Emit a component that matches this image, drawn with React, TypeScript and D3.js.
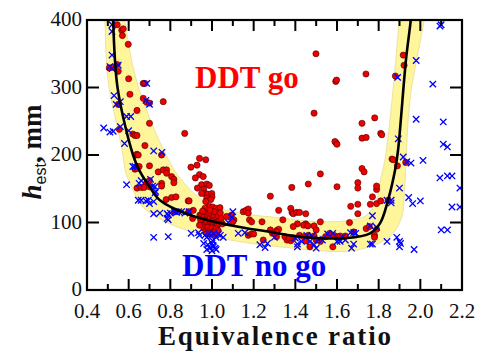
import React from 'react';
import * as d3 from 'd3';

const X_TICKS = [0.4, 0.6, 0.8, 1.0, 1.2, 1.4, 1.6, 1.8, 2.0, 2.2];
const X_MINOR = [0.5, 0.7, 0.9, 1.1, 1.3, 1.5, 1.7, 1.9, 2.1];
const Y_TICKS = [0, 100, 200, 300, 400];

// DDT go (red circles): [equivalence ratio, h_est mm]
const goPoints: [number, number][] = [
  [0.545, 393], [0.567, 385], [0.57, 377], [0.574, 387], [0.598, 364],
  [0.507, 329], [0.523, 330], [0.545, 334], [0.55, 324],
  [0.6, 313], [0.67, 306], [0.678, 306], [0.606, 290], [0.67, 284], [0.687, 278], [0.7, 277],
  [0.55, 275], [0.766, 279], [0.64, 266], [0.7, 247], [0.555, 238], [0.62, 231], [0.63, 229],
  [0.64, 229], [0.678, 214], [0.869, 232], [0.64, 201], [0.635, 200], [0.646, 200], [0.758, 200],
  [0.63, 179], [0.64, 180], [0.65, 183], [0.7, 184], [0.742, 175], [0.766, 178], [0.782, 178],
  [0.782, 173], [0.806, 168], [0.817, 164], [0.817, 159], [0.758, 158], [0.758, 154], [0.69, 160],
  [0.683, 157], [0.64, 151], [0.66, 152], [0.674, 152], [0.7, 153], [0.78, 134], [0.806, 137],
  [0.827, 138], [0.82, 116], [0.886, 132], [0.7, 162],
  [0.94, 195], [0.97, 193], [0.928, 185], [0.899, 182], [0.94, 171], [0.958, 168], [0.92, 166],
  [0.95, 156], [0.975, 157], [0.987, 155], [0.93, 151], [0.96, 149], [0.966, 143], [0.98, 142],
  [0.999, 143], [1.0, 138], [0.95, 143], [0.975, 136], [0.994, 134], [0.97, 131], [0.89, 132],
  [0.987, 124], [1.003, 123], [1.02, 121], [1.038, 122], [0.966, 121], [0.96, 116], [0.888, 116],
  [0.91, 118], [0.907, 106], [0.942, 111],
  [0.95, 112], [0.96, 108], [0.97, 104], [0.98, 110], [0.99, 106], [1.0, 112], [1.01, 108],
  [1.02, 104], [1.03, 110], [0.95, 100], [0.965, 97], [0.975, 101], [0.985, 96], [0.995, 100],
  [1.005, 97], [1.015, 100], [1.025, 95], [1.035, 102], [0.96, 92], [0.97, 88], [0.98, 93],
  [0.99, 89], [1.0, 92], [1.01, 87], [1.02, 91], [1.03, 88], [0.975, 84], [0.99, 83], [1.005, 85],
  [1.015, 82], [0.955, 117], [0.985, 115], [1.01, 116], [1.04, 114], [0.945, 104], [1.045, 106],
  [1.05, 98], [0.94, 96], [1.0, 102], [0.99, 118],
  [1.07, 109], [1.094, 111], [1.105, 104], [1.1, 101], [1.15, 116], [1.163, 118], [1.174, 120],
  [1.174, 114], [1.18, 104], [1.19, 101], [1.24, 101], [1.28, 139], [1.32, 118], [1.28, 89],
  [1.31, 88], [1.32, 90], [1.174, 81], [1.19, 83], [1.2, 83], [1.246, 74], [1.31, 86],
  [1.383, 152], [1.462, 157], [1.6, 153], [1.7, 159], [1.7, 151], [1.52, 172], [1.72, 180], [1.73, 175],
  [1.378, 121], [1.384, 115], [1.39, 113], [1.406, 115], [1.42, 115], [1.45, 113],
  [1.34, 104], [1.52, 101], [1.41, 98], [1.39, 94], [1.45, 98], [1.49, 95], [1.5, 89], [1.44, 96], [1.46, 95],
  [1.666, 124], [1.7, 127], [1.7, 113], [1.66, 100], [1.68, 86],
  [1.76, 127], [1.79, 128], [1.81, 132], [1.846, 133], [1.77, 138], [1.79, 149], [1.79, 154],
  [1.74, 91], [1.755, 94], [1.79, 90], [1.78, 81], [1.78, 78], [1.29, 84], [1.31, 79],
  [1.36, 74], [1.378, 73], [1.39, 77], [1.42, 81], [1.44, 79], [1.462, 81], [1.49, 80], [1.52, 72],
  [1.545, 79], [1.565, 84], [1.585, 81], [1.6, 79], [1.615, 80], [1.64, 80], [1.5, 74], [1.47, 64],
  [1.58, 64], [1.45, 73], [1.35, 79], [1.37, 77],
  [1.864, 194], [1.87, 193], [1.89, 184], [1.93, 189], [1.918, 348], [1.922, 333], [1.88, 317],
  [1.499, 350], [1.594, 309], [1.598, 311], [1.739, 320], [1.49, 262], [1.781, 255], [1.72, 247],
  [1.81, 232], [1.815, 230], [1.595, 218], [1.59, 220], [1.6, 216], [1.72, 225], [1.74, 226],
];

// DDT no go (blue crosses)
const noGoPoints: [number, number][] = [
  [0.52, 393], [0.52, 383], [0.52, 348], [0.51, 331], [0.52, 328], [0.55, 333], [0.53, 288],
  [0.54, 275], [0.56, 279], [0.687, 306], [0.683, 281], [0.7, 275], [0.59, 257], [0.61, 257],
  [0.48, 240], [0.51, 234], [0.526, 235], [0.56, 242], [0.6, 236], [0.58, 217], [0.72, 206], [0.76, 204],
  [0.59, 156], [0.65, 158], [0.66, 162], [0.62, 183], [0.63, 183], [0.715, 154], [0.726, 153],
  [0.705, 164], [0.727, 144], [0.646, 133], [0.66, 133], [0.683, 132], [0.694, 133],
  [0.7, 128], [0.72, 131], [0.73, 146], [0.72, 113], [0.75, 114], [0.785, 113], [0.79, 104], [0.8, 114],
  [0.82, 116], [0.83, 115], [0.79, 111], [0.785, 106], [0.72, 78], [0.79, 79], [0.84, 116], [0.87, 114],
  [0.89, 116], [0.854, 116], [0.9, 84], [0.935, 85], [0.94, 81],
  [0.96, 69], [0.98, 67], [1.0, 69], [1.007, 64], [1.02, 60], [0.975, 60], [1.003, 73], [0.966, 81],
  [0.975, 78], [1.02, 78], [1.04, 81], [1.054, 78], [0.985, 83], [0.995, 80], [1.01, 84], [1.03, 83],
  [0.99, 62], [1.005, 66], [1.0, 58], [1.015, 62],
  [1.1, 116], [1.094, 108], [1.078, 100], [1.126, 84], [1.158, 85], [1.23, 67], [1.255, 63], [1.266, 69],
  [1.3, 78], [1.4, 77], [1.41, 68], [1.41, 64], [1.48, 80], [1.47, 72], [1.49, 67], [1.5, 62],
  [1.53, 74], [1.555, 83], [1.58, 84], [1.6, 72], [1.615, 72], [1.625, 78], [1.665, 85], [1.68, 85],
  [1.69, 84], [1.67, 62], [1.68, 68], [1.64, 74], [1.61, 74], [1.51, 75], [1.455, 81], [1.43, 72],
  [1.76, 68], [1.77, 68], [1.76, 95], [1.79, 93], [1.77, 110], [1.84, 72], [1.887, 78], [1.905, 69],
  [1.9, 64], [1.97, 60], [1.9, 72],
  [2.094, 391], [2.1, 393], [1.98, 340], [2.06, 305], [1.98, 253], [2.11, 249], [1.894, 224],
  [1.891, 315], [2.11, 216], [2.13, 212], [1.918, 197], [1.955, 188], [2.013, 192], [1.935, 190],
  [2.094, 166], [2.13, 169], [2.152, 169], [2.19, 151], [1.9, 151], [1.944, 137], [1.963, 128],
  [2.0, 132], [2.152, 123], [2.19, 123], [1.86, 133], [1.84, 133], [1.86, 129], [2.1, 89], [2.13, 89],
];

// fitted boundary curve
const curvePts: [number, number][] = [
  [0.522, 420], [0.525, 400], [0.547, 299], [0.621, 200], [0.65, 178], [0.7, 153], [0.75, 133],
  [0.894, 111], [1.087, 96], [1.28, 86], [1.437, 78.5], [1.648, 77], [1.759, 84], [1.807, 99],
  [1.845, 133], [1.879, 178], [1.893, 207], [1.931, 341], [1.954, 400], [1.958, 420],
];

// uncertainty band edges
const bandInner: [number, number][] = [
  [0.578, 420], [0.582, 400], [0.639, 309], [0.765, 209], [0.846, 166], [0.975, 129], [1.134, 114],
  [1.326, 107], [1.518, 101], [1.677, 104], [1.743, 111], [1.79, 133], [1.806, 159], [1.83, 193],
  [1.864, 281], [1.898, 400], [1.902, 420],
];
const bandOuter: [number, number][] = [
  [0.484, 420], [0.486, 400], [0.502, 309], [0.567, 210], [0.587, 173], [0.606, 159], [0.669, 123],
  [0.813, 96], [0.975, 81], [1.167, 70], [1.326, 64], [1.598, 57], [1.694, 59], [1.806, 70],
  [1.869, 84], [1.911, 109], [1.926, 159], [1.95, 281], [2.018, 400], [2.024, 420],
];

export default function App() {
  const W = 480, H = 356;
  const L = 87, R = 462, T = 20, B = 290;
  const x = d3.scaleLinear().domain([0.4, 2.2]).range([L, R]);
  const y = d3.scaleLinear().domain([0, 400]).range([B, T]);
  const line = d3.line<[number, number]>()
    .x(d => x(d[0])).y(d => y(d[1]))
    .curve(d3.curveCatmullRom.alpha(0.5));
  const bandPath = line([...bandInner, ...bandOuter.slice().reverse()]) + 'Z';
  const curvePath = line(curvePts) || '';
  const font = '"Liberation Serif", "Times New Roman", serif';
  const cs = 3.2;

  return (
    <svg width={W} height={H} style={{ position: 'absolute', left: 0, top: 0, background: '#fff' }}
      fontFamily={font}>
      <defs>
        <clipPath id="plot">
          <rect x={L} y={T} width={R - L} height={B - T} />
        </clipPath>
      </defs>
      <g clipPath="url(#plot)">
        <path d={bandPath} fill="#fff59a" stroke="#ece3a0" strokeWidth={1} />
        <g>
          {goPoints.map((d, i) => (
            <circle key={'g' + i} cx={x(d[0])} cy={y(d[1])} r={3.1} fill="#ee0000" stroke="#4a0000" strokeWidth={0.6} />
          ))}
        </g>
        <g stroke="#0000ff" strokeWidth={1.3} fill="none">
          {noGoPoints.map((d, i) => {
            const cx = x(d[0]), cy = y(d[1]);
            return (
              <path key={'n' + i} d={`M${cx - cs},${cy - cs}L${cx + cs},${cy + cs}M${cx - cs},${cy + cs}L${cx + cs},${cy - cs}`} />
            );
          })}
        </g>
        <path d={curvePath} fill="none" stroke="#000" strokeWidth={2.6} />
      </g>

      {/* ticks */}
      <g stroke="#000" strokeWidth={2}>
        {X_TICKS.slice(1, -1).map(t => (
          <g key={'xt' + t}>
            <line x1={x(t)} x2={x(t)} y1={B} y2={B - 11} />
            <line x1={x(t)} x2={x(t)} y1={T} y2={T + 11} />
          </g>
        ))}
        {X_MINOR.map(t => (
          <g key={'xm' + t}>
            <line x1={x(t)} x2={x(t)} y1={B} y2={B - 6} />
            <line x1={x(t)} x2={x(t)} y1={T} y2={T + 6} />
          </g>
        ))}
        {Y_TICKS.slice(1, -1).map(t => (
          <g key={'yt' + t}>
            <line x1={L} x2={L + 12} y1={y(t)} y2={y(t)} />
            <line x1={R} x2={R - 12} y1={y(t)} y2={y(t)} />
          </g>
        ))}
      </g>
      <rect x={L} y={T} width={R - L} height={B - T} fill="none" stroke="#000" strokeWidth={2.2} />

      {/* tick labels */}
      <g fontSize={21} fill="#111">
        {X_TICKS.map(t => (
          <text key={'xl' + t} x={x(t)} y={318} textAnchor="middle">{t.toFixed(1)}</text>
        ))}
        {Y_TICKS.map(t => (
          <text key={'yl' + t} x={82} y={y(t) + 6} textAnchor="end">{t}</text>
        ))}
      </g>

      {/* axis titles */}
      <text x={(158 + 391) / 2} y={345} textAnchor="middle" fontSize={27} fontWeight="bold" fill="#111"
        textLength={233} lengthAdjust="spacing">Equivalence ratio</text>
      <text transform="translate(41,152) rotate(-90)" textAnchor="middle" fontSize={27} fontWeight="bold" fill="#111">
        <tspan fontStyle="italic">h</tspan>
        <tspan fontSize={16} fontWeight="normal" fontFamily='"Liberation Sans", Arial, sans-serif' dy={5}>est</tspan>
        <tspan dy={-5}>, mm</tspan>
      </text>

      {/* region labels */}
      <text x={195} y={88} fontSize={31} fontWeight="bold" fill="#ff0000">DDT go</text>
      <text x={182} y={276} fontSize={31} fontWeight="bold" fill="#0000ff">DDT no go</text>
    </svg>
  );
}
